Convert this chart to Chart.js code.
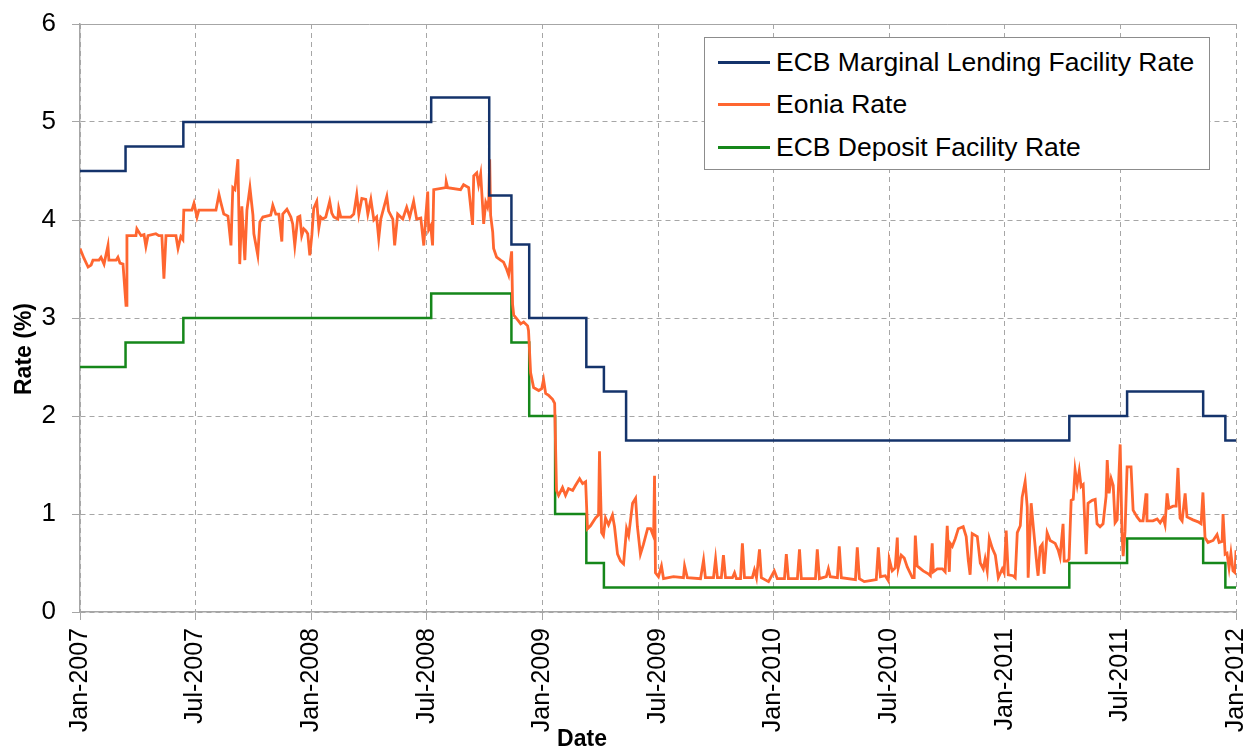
<!DOCTYPE html>
<html>
<head>
<meta charset="utf-8">
<title>ECB rates and Eonia</title>
<script src="https://cdn.jsdelivr.net/npm/chart.js@4.4.0/dist/chart.umd.min.js"></script>
<style>
  body { margin: 0; background: #fff; }
  #wrap { position: relative; width: 1256px; height: 753px; }
  #legend {
    position: absolute; left: 704px; top: 37px; width: 506px; height: 133px;
    box-sizing: border-box; border: 1px solid #8c8c8c; background: #fff;
    font: 26.5px 'Liberation Sans', Arial, sans-serif; color: #000; padding-top: 3px;
  }
  #legend .row { display: flex; align-items: center; height: 42.5px; white-space: nowrap; }
  #legend .swatch { width: 52px; height: 3px; margin: 0 6px 0 13px; }
</style>
</head>
<body>
<div id="wrap">
  <canvas id="rateChart" width="1256" height="753"></canvas>
  <div id="legend"></div>
</div>
<script>
// dates are decimal years (2007.5 = start of July 2007)
const mlfDates = [2007.0, 2007.197, 2007.447, 2008.519, 2008.770, 2008.866, 2008.943, 2009.190, 2009.266, 2009.362, 2011.279, 2011.529, 2011.858, 2011.954, 2012.0];
const mlfRates = [4.5, 4.75, 5.0, 5.25, 4.25, 3.75, 3.0, 2.5, 2.25, 1.75, 2.0, 2.25, 2.0, 1.75, 1.75];

const depositDates = [2007.0, 2007.197, 2007.447, 2008.519, 2008.866, 2008.943, 2009.055, 2009.190, 2009.266, 2011.279, 2011.529, 2011.858, 2011.954, 2012.0];
const depositRates = [2.5, 2.75, 3.0, 3.25, 2.75, 2.0, 1.0, 0.5, 0.25, 0.5, 0.75, 0.5, 0.25, 0.25];

const eoniaDates = [
  2007.000, 2007.017, 2007.035, 2007.048, 2007.056, 2007.082, 2007.091, 2007.104, 2007.121, 2007.125,
  2007.156, 2007.164, 2007.173, 2007.186, 2007.199, 2007.203, 2007.242, 2007.246, 2007.264, 2007.277,
  2007.285, 2007.294, 2007.328, 2007.341, 2007.354, 2007.363, 2007.372, 2007.415, 2007.424, 2007.436,
  2007.445, 2007.449, 2007.484, 2007.493, 2007.506, 2007.514, 2007.588, 2007.601, 2007.609, 2007.622,
  2007.640, 2007.653, 2007.661, 2007.670, 2007.683, 2007.691, 2007.700, 2007.713, 2007.722, 2007.735,
  2007.748, 2007.752, 2007.769, 2007.778, 2007.791, 2007.825, 2007.834, 2007.847, 2007.860, 2007.873,
  2007.877, 2007.895, 2007.912, 2007.920, 2007.929, 2007.942, 2007.951, 2007.959, 2007.968, 2007.977,
  2007.985, 2007.994, 2008.003, 2008.011, 2008.024, 2008.033, 2008.041, 2008.050, 2008.063, 2008.080,
  2008.089, 2008.098, 2008.115, 2008.119, 2008.128, 2008.171, 2008.184, 2008.197, 2008.206, 2008.219,
  2008.236, 2008.245, 2008.258, 2008.271, 2008.283, 2008.292, 2008.301, 2008.327, 2008.335, 2008.353,
  2008.361, 2008.374, 2008.396, 2008.413, 2008.426, 2008.443, 2008.456, 2008.474, 2008.487, 2008.495,
  2008.504, 2008.508, 2008.517, 2008.525, 2008.530, 2008.582, 2008.584, 2008.590, 2008.646, 2008.659,
  2008.681, 2008.698, 2008.703, 2008.716, 2008.724, 2008.733, 2008.742, 2008.746, 2008.755, 2008.763,
  2008.768, 2008.772, 2008.776, 2008.785, 2008.789, 2008.802, 2008.819, 2008.832, 2008.845, 2008.854,
  2008.867, 2008.871, 2008.876, 2008.893, 2008.906, 2008.919, 2008.936, 2008.940, 2008.949, 2008.962,
  2008.984, 2008.997, 2009.005, 2009.014, 2009.027, 2009.044, 2009.053, 2009.061, 2009.070, 2009.087,
  2009.100, 2009.113, 2009.131, 2009.143, 2009.161, 2009.174, 2009.187, 2009.195, 2009.208, 2009.230,
  2009.243, 2009.247, 2009.256, 2009.264, 2009.273, 2009.286, 2009.303, 2009.312, 2009.325, 2009.338,
  2009.351, 2009.364, 2009.373, 2009.390, 2009.403, 2009.411, 2009.424, 2009.437, 2009.455, 2009.468,
  2009.481, 2009.485, 2009.489, 2009.502, 2009.515, 2009.524, 2009.567, 2009.610, 2009.615, 2009.627,
  2009.684, 2009.697, 2009.705, 2009.740, 2009.749, 2009.757, 2009.774, 2009.783, 2009.792, 2009.822,
  2009.831, 2009.839, 2009.857, 2009.865, 2009.874, 2009.908, 2009.917, 2009.926, 2009.939, 2009.947,
  2009.978, 2010.003, 2010.016, 2010.047, 2010.055, 2010.064, 2010.103, 2010.112, 2010.120, 2010.181,
  2010.189, 2010.198, 2010.228, 2010.237, 2010.245, 2010.276, 2010.284, 2010.293, 2010.354, 2010.362,
  2010.371, 2010.392, 2010.418, 2010.444, 2010.453, 2010.462, 2010.483, 2010.496, 2010.500, 2010.513,
  2010.526, 2010.535, 2010.539, 2010.552, 2010.565, 2010.578, 2010.600, 2010.608, 2010.613, 2010.621,
  2010.647, 2010.669, 2010.678, 2010.686, 2010.691, 2010.708, 2010.730, 2010.742, 2010.751, 2010.760,
  2010.764, 2010.773, 2010.786, 2010.799, 2010.820, 2010.833, 2010.842, 2010.850, 2010.859, 2010.881,
  2010.894, 2010.907, 2010.915, 2010.924, 2010.933, 2010.946, 2010.959, 2010.972, 2010.989, 2010.997,
  2011.006, 2011.015, 2011.036, 2011.045, 2011.054, 2011.067, 2011.075, 2011.088, 2011.097, 2011.101,
  2011.114, 2011.123, 2011.140, 2011.144, 2011.153, 2011.162, 2011.170, 2011.183, 2011.196, 2011.218,
  2011.231, 2011.239, 2011.252, 2011.257, 2011.270, 2011.278, 2011.287, 2011.296, 2011.304, 2011.313,
  2011.322, 2011.330, 2011.339, 2011.352, 2011.360, 2011.378, 2011.391, 2011.399, 2011.412, 2011.425,
  2011.438, 2011.443, 2011.451, 2011.460, 2011.469, 2011.477, 2011.486, 2011.499, 2011.507, 2011.512,
  2011.520, 2011.529, 2011.546, 2011.555, 2011.572, 2011.585, 2011.598, 2011.611, 2011.615, 2011.641,
  2011.659, 2011.672, 2011.685, 2011.693, 2011.702, 2011.710, 2011.728, 2011.741, 2011.749, 2011.758,
  2011.767, 2011.780, 2011.788, 2011.814, 2011.836, 2011.849, 2011.857, 2011.866, 2011.879, 2011.901,
  2011.918, 2011.927, 2011.940, 2011.944, 2011.953, 2011.961, 2011.970, 2011.978, 2011.987, 2011.996,
  2012.000
];
const eoniaRates = [
  3.71, 3.61, 3.52, 3.54, 3.59, 3.59, 3.62, 3.55, 3.74, 3.59,
  3.59, 3.62, 3.56, 3.55, 3.13, 3.84, 3.84, 3.91, 3.84, 3.85,
  3.73, 3.84, 3.86, 3.84, 3.84, 3.40, 3.84, 3.84, 3.71, 3.83,
  3.80, 4.10, 4.10, 4.17, 4.03, 4.10, 4.10, 4.26, 4.18, 4.06,
  4.04, 3.74, 4.33, 4.31, 4.62, 3.55, 4.14, 3.59, 4.10, 4.33,
  4.05, 3.86, 3.64, 3.98, 4.03, 4.05, 4.15, 4.06, 4.06, 3.78,
  4.06, 4.11, 4.03, 3.96, 3.74, 4.03, 4.04, 3.84, 3.91, 3.89,
  3.86, 3.64, 3.85, 4.12, 4.19, 3.92, 4.03, 4.01, 4.03, 4.19,
  4.07, 4.03, 4.01, 4.12, 4.03, 4.03, 4.06, 4.26, 4.06, 4.22,
  4.21, 4.06, 4.21, 4.00, 4.03, 3.81, 4.01, 4.24, 4.09, 4.01,
  3.74, 4.06, 4.01, 4.13, 4.03, 4.19, 4.01, 4.02, 3.74, 4.02,
  4.29, 3.90, 3.94, 3.74, 4.31, 4.33, 4.39, 4.33, 4.31, 4.36,
  4.33, 3.95, 4.45, 4.48, 4.36, 4.47, 4.12, 3.96, 4.18, 4.13,
  4.21, 4.62, 4.05, 3.88, 3.71, 3.62, 3.59, 3.57, 3.50, 3.44,
  3.68, 3.14, 3.03, 2.98, 2.94, 2.96, 2.92, 2.87, 2.44, 2.29,
  2.26, 2.28, 2.37, 2.23, 2.21, 2.17, 2.13, 1.24, 1.19, 1.27,
  1.19, 1.26, 1.24, 1.29, 1.36, 1.31, 1.33, 0.85, 0.88, 0.96,
  0.99, 1.64, 0.81, 0.78, 0.96, 0.89, 0.99, 0.87, 0.59, 0.52,
  0.49, 0.85, 0.78, 1.11, 1.16, 0.87, 0.59, 0.69, 0.85, 0.85,
  0.77, 1.39, 0.40, 0.36, 0.47, 0.34, 0.36, 0.35, 0.47, 0.35,
  0.34, 0.53, 0.35, 0.35, 0.54, 0.35, 0.35, 0.58, 0.35, 0.35,
  0.40, 0.34, 0.34, 0.70, 0.35, 0.35, 0.43, 0.35, 0.64, 0.35,
  0.31, 0.42, 0.34, 0.34, 0.59, 0.34, 0.34, 0.64, 0.34, 0.34,
  0.64, 0.34, 0.36, 0.44, 0.36, 0.35, 0.67, 0.35, 0.33, 0.66,
  0.34, 0.31, 0.32, 0.33, 0.66, 0.36, 0.37, 0.32, 0.54, 0.42,
  0.45, 0.76, 0.45, 0.58, 0.55, 0.46, 0.35, 0.35, 0.78, 0.47,
  0.42, 0.39, 0.37, 0.70, 0.41, 0.44, 0.44, 0.41, 0.88, 0.41,
  0.70, 0.67, 0.75, 0.85, 0.87, 0.77, 0.53, 0.38, 0.80, 0.77,
  0.50, 0.44, 0.54, 0.42, 0.75, 0.65, 0.58, 0.35, 0.44, 0.40,
  0.83, 0.38, 0.37, 0.35, 0.81, 0.88, 1.17, 1.33, 1.07, 0.35,
  1.11, 0.88, 0.45, 0.37, 0.66, 0.69, 0.39, 0.81, 0.73, 0.70,
  0.63, 0.56, 0.90, 0.52, 0.52, 0.54, 1.14, 1.15, 1.45, 1.30,
  1.44, 1.28, 1.30, 0.59, 1.11, 1.14, 1.15, 0.90, 0.87, 0.90,
  1.18, 1.55, 1.21, 1.36, 1.29, 0.91, 0.94, 1.71, 0.80, 0.57,
  0.82, 1.48, 1.48, 1.04, 0.97, 0.93, 0.93, 1.21, 0.93, 0.93,
  0.95, 0.91, 0.96, 0.89, 1.21, 1.06, 1.08, 1.08, 1.47, 0.96,
  0.93, 1.21, 0.97, 0.94, 0.92, 0.90, 1.22, 0.76, 0.71, 0.73,
  0.79, 0.71, 0.72, 1.00, 0.59, 0.60, 0.45, 0.60, 0.42, 0.40,
  0.63
];

const seriesLabels = ['ECB Marginal Lending Facility Rate', 'Eonia Rate', 'ECB Deposit Facility Rate'];
const seriesColors = ['#14336b', '#ff6630', '#15871a'];
const monthNames = ['Jan', 'Jul'];

const FONT = "'Liberation Sans', Arial, sans-serif";
const GRID = '#a6a6a6';

const toPoints = (xs, ys) => xs.map((x, i) => ({ x: x, y: ys[i] }));

// axis titles sit a bit off-centre in the original, so draw them by hand
const axisTitles = {
  id: 'axisTitles',
  afterDraw(chart) {
    const { ctx, chartArea } = chart;
    ctx.save();
    ctx.font = 'bold 23px ' + FONT;
    ctx.fillStyle = '#000';
    ctx.textAlign = 'center';
    ctx.textBaseline = 'middle';
    ctx.fillText('Date', (chartArea.left + chartArea.right) / 2 - 76, 740);
    ctx.translate(25, (chartArea.top + chartArea.bottom) / 2 + 31);
    ctx.rotate(-Math.PI / 2);
    ctx.fillText('Rate (%)', 0, 0);
    ctx.restore();
  },
};

const config = {
  type: 'line',
  data: {
    datasets: [
      {
        label: seriesLabels[0],
        data: toPoints(mlfDates, mlfRates),
        borderColor: seriesColors[0],
        backgroundColor: seriesColors[0],
        stepped: 'before',
      },
      {
        label: seriesLabels[1],
        data: toPoints(eoniaDates, eoniaRates),
        borderColor: seriesColors[1],
        backgroundColor: seriesColors[1],
        borderWidth: 2.8,
      },
      {
        label: seriesLabels[2],
        data: toPoints(depositDates, depositRates),
        borderColor: seriesColors[2],
        backgroundColor: seriesColors[2],
        stepped: 'before',
      },
    ],
  },
  options: {
    responsive: false,
    animation: false,
    layout: { padding: { top: 24, right: 20, left: 0, bottom: 0 } },
    elements: {
      point: { radius: 0 },
      line: { borderWidth: 2.5, tension: 0 },
    },
    plugins: {
      legend: { display: false },
      tooltip: { enabled: false },
    },
    scales: {
      x: {
        type: 'linear',
        min: 2007,
        max: 2012,
        ticks: {
          stepSize: 0.5,
          autoSkip: false,
          minRotation: 90,
          maxRotation: 90,
          padding: 8,
          color: '#000',
          font: { family: FONT, size: 25 },
          callback: (v) => monthNames[Math.round(v * 2) % 2] + '-' + Math.floor(v + 0.001),
        },
        grid: { color: GRID, tickColor: GRID, tickLength: 8, lineWidth: 1 },
        border: { color: GRID, width: 1.5, dash: [5, 4] },
        afterFit(scale) {
          scale.height = 141;
          scale.paddingLeft = 0;
          scale.paddingRight = 0;
        },
      },
      y: {
        min: 0,
        max: 6,
        ticks: {
          stepSize: 1,
          padding: 16,
          color: '#000',
          font: { family: FONT, size: 26 },
        },
        grid: { color: GRID, tickColor: GRID, tickLength: 8, lineWidth: 1 },
        border: {
          color: GRID,
          width: 1.5,
          dash: (ctx) => (ctx.tick && ctx.tick.value === 6 ? [] : [5, 4]),
        },
        afterFit(scale) {
          scale.width = 80;
          scale.paddingTop = 0;
          scale.paddingBottom = 0;
        },
      },
    },
  },
  plugins: [axisTitles],
};

const rateChart = new Chart(document.getElementById('rateChart'), config);

// legend box drawn as html over the plot
const legendBox = document.getElementById('legend');
rateChart.data.datasets.forEach((ds) => {
  const row = document.createElement('div');
  row.className = 'row';
  const swatch = document.createElement('span');
  swatch.className = 'swatch';
  swatch.style.background = ds.borderColor;
  row.appendChild(swatch);
  row.appendChild(document.createTextNode(ds.label));
  legendBox.appendChild(row);
});
</script>
</body>
</html>
